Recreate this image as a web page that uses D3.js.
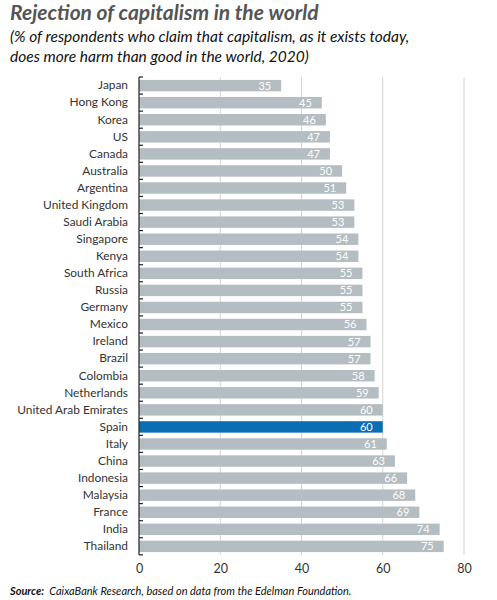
<!DOCTYPE html>
<html>
<head>
<meta charset="utf-8">
<script src="https://cdn.jsdelivr.net/npm/d3@7"></script>
<style>
  body { margin: 0; background: #fff; }
  svg { display: block; }
</style>
</head>
<body>
<div id="chart"></div>
<script>
// Data
const countries = ["Japan", "Hong Kong", "Korea", "US", "Canada", "Australia", "Argentina",
  "United Kingdom", "Saudi Arabia", "Singapore", "Kenya", "South Africa", "Russia", "Germany",
  "Mexico", "Ireland", "Brazil", "Colombia", "Netherlands", "United Arab Emirates", "Spain",
  "Italy", "China", "Indonesia", "Malaysia", "France", "India", "Thailand"];
const values = [35, 45, 46, 47, 47, 50, 51, 53, 53, 54, 54, 55, 55, 55, 56, 57, 57, 58, 59, 60,
  60, 61, 63, 66, 68, 69, 74, 75];
const xTicks = [0, 20, 40, 60, 80];
const highlight = "Spain";

const width = 497, height = 600;
const margin = {top: 77, left: 139, right: 33, bottom: 45};
const font = "Lato, 'Open Sans', sans-serif";

const svg = d3.select("#chart").append("svg")
    .attr("width", width)
    .attr("height", height);

// Titles
svg.append("text")
    .attr("x", 10).attr("y", 20)
    .attr("font-family", font)
    .attr("font-size", 21)
    .attr("font-weight", "bold")
    .attr("font-style", "italic")
    .attr("fill", "#555")
    .text("Rejection of capitalism in the world");

const subtitle = ["(% of respondents who claim that capitalism, as it exists today,",
  "does more harm than good in the world, 2020)"];
svg.selectAll("text.sub").data(subtitle).enter().append("text")
    .attr("class", "sub")
    .attr("x", 10)
    .attr("y", (d, i) => 42 + i * 19.5)
    .attr("font-family", font)
    .attr("font-size", 15.5)
    .attr("font-style", "italic")
    .attr("fill", "#111")
    .text(d => d);

const data = countries.map((c, i) => ({country: c, value: values[i]}));

const x = d3.scaleLinear()
    .domain([0, 80])
    .range([margin.left, width - margin.right]);

const y = d3.scaleBand()
    .domain(countries)
    .range([margin.top, 555])
    .paddingInner(0.33)
    .paddingOuter(0.17);

// Gridlines
svg.append("g")
    .selectAll("line")
    .data(xTicks.filter(t => t > 0))
    .enter().append("line")
    .attr("x1", d => x(d)).attr("x2", d => x(d))
    .attr("y1", margin.top).attr("y2", 555)
    .attr("stroke", "#d4d4d4")
    .attr("stroke-width", 1);

// Bars
svg.append("g")
    .selectAll("rect")
    .data(data)
    .enter().append("rect")
    .attr("x", x(0))
    .attr("y", d => y(d.country))
    .attr("width", d => x(d.value) - x(0))
    .attr("height", y.bandwidth())
    .attr("fill", d => d.country === highlight ? "#0b6db2" : "#b4bdc2");

// Value labels inside bars
svg.append("g")
    .selectAll("text")
    .data(data)
    .enter().append("text")
    .attr("x", d => x(d.value) - 10)
    .attr("y", d => y(d.country) + y.bandwidth() / 2)
    .attr("dy", "0.36em")
    .attr("text-anchor", "end")
    .attr("font-family", font)
    .attr("font-size", 11)
    .attr("fill", "#fff")
    .text(d => d.value);

// Category axis
const yAxis = svg.append("g")
    .attr("transform", `translate(${margin.left},0)`)
    .call(d3.axisLeft(y).tickSize(0).tickPadding(11));
yAxis.select(".domain").remove();
yAxis.selectAll("text")
    .attr("font-family", font)
    .attr("font-size", 11.9)
    .attr("fill", "#333");

// Axis line with small boundary ticks
const bounds = d3.range(countries.length + 1).map(i => margin.top + i * y.step());
svg.append("line")
    .attr("x1", x(0)).attr("x2", x(0))
    .attr("y1", margin.top).attr("y2", 555)
    .attr("stroke", "#222").attr("stroke-width", 1.2);
svg.append("g")
    .selectAll("line")
    .data(bounds)
    .enter().append("line")
    .attr("x1", x(0)).attr("x2", x(0) + 4)
    .attr("y1", d => d).attr("y2", d => d)
    .attr("stroke", "#222").attr("stroke-width", 1.2);

// Value axis labels
const xAxis = svg.append("g")
    .attr("transform", "translate(0,555)")
    .call(d3.axisBottom(x).tickValues(xTicks).tickSize(0).tickPadding(9));
xAxis.select(".domain").remove();
xAxis.selectAll("text")
    .attr("font-family", font)
    .attr("font-size", 12.5)
    .attr("fill", "#333");

// Source
const src = svg.append("text")
    .attr("x", 10).attr("y", 595)
    .attr("font-family", font)
    .attr("font-size", 11)
    .attr("font-style", "italic")
    .attr("fill", "#111");
src.append("tspan").attr("font-weight", "bold").text("Source:");
src.append("tspan").attr("dx", 5).text("CaixaBank Research, based on data from the Edelman Foundation.");
</script>
</body>
</html>
